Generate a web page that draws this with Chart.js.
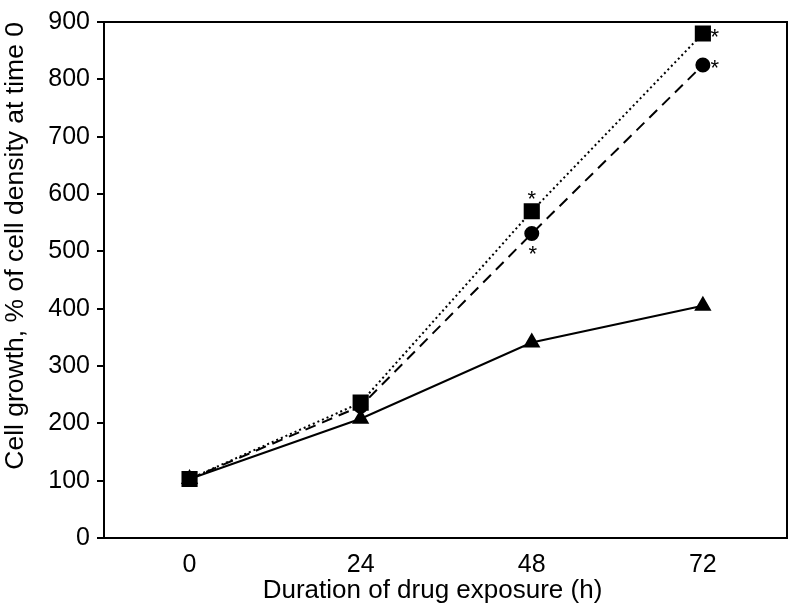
<!DOCTYPE html>
<html>
<head>
<meta charset="utf-8">
<script src="https://cdn.jsdelivr.net/npm/chart.js@4.4.1/dist/chart.umd.min.js"></script>
<style>
  html, body { margin: 0; padding: 0; background: #fff; }
  #wrap { width: 789px; height: 610px; }
</style>
</head>
<body>
<div id="wrap"><canvas id="chart"></canvas></div>
<script>
// duration of drug exposure (h)
var hours = [0, 24, 48, 72];
var yTicks = [0, 100, 200, 300, 400, 500, 600, 700, 800, 900];

// cell growth, % of cell density at time 0
var squareVals = [103, 236, 570, 880];
var circleVals = [103, 230, 531, 825];
var triangleVals = [103, 208, 341, 405];

// which points carry a significance asterisk (and where)
var squareStars = [null, null, 'above', 'right'];
var circleStars = [null, null, 'below', 'right'];

var xTitle = 'Duration of drug exposure (h)';
var yTitle = 'Cell growth, % of cell density at time 0';

var FONT = "'Liberation Sans', Arial, Helvetica, sans-serif";

function pts(vals) {
	return vals.map(function(v, i) { return { x: hours[i], y: v }; });
}

// box round the plot area + x title (sits a bit left of centre in the original)
var boxPlugin = {
	id: 'box',
	afterDraw: function(chart) {
		var a = chart.chartArea, ctx = chart.ctx;
		ctx.save();
		ctx.strokeStyle = '#000';
		ctx.lineWidth = 2;
		ctx.strokeRect(a.left, a.top, a.right - a.left, a.bottom - a.top);
		ctx.fillStyle = '#000';
		ctx.font = '26px ' + FONT;
		ctx.textAlign = 'center';
		ctx.textBaseline = 'alphabetic';
		ctx.fillText(xTitle, a.left + (a.right - a.left) / 2 - 13, 598);
		ctx.restore();
	}
};

// asterisks next to points
var starPlugin = {
	id: 'stars',
	afterDatasetsDraw: function(chart) {
		var ctx = chart.ctx;
		var offs = { above: [0, -11], below: [1, 21], right: [12, 4] };
		ctx.save();
		ctx.fillStyle = '#000';
		ctx.font = '22px ' + FONT;
		ctx.textAlign = 'center';
		ctx.textBaseline = 'middle';
		chart.data.datasets.forEach(function(ds, di) {
			if (!ds.stars) return;
			var meta = chart.getDatasetMeta(di);
			ds.stars.forEach(function(where, i) {
				if (!where) return;
				var el = meta.data[i];
				ctx.fillText('*', el.x + offs[where][0], el.y + offs[where][1]);
			});
		});
		ctx.restore();
	}
};

var chart = new Chart(document.getElementById('chart'), {
	type: 'line',
	data: {
		datasets: [
			{
				data: pts(triangleVals),
				borderColor: '#000', backgroundColor: '#000',
				borderWidth: 2,
				pointStyle: 'triangle', pointRadius: 8,
				order: 3
			},
			{
				data: pts(circleVals),
				borderColor: '#000', backgroundColor: '#000',
				borderWidth: 2, borderDash: [11, 7],
				pointStyle: 'circle', pointRadius: 6.5,
				stars: circleStars,
				order: 2
			},
			{
				data: pts(squareVals),
				borderColor: '#000', backgroundColor: '#000',
				borderWidth: 2, borderDash: [2, 3],
				pointStyle: 'rect', pointRadius: 10,
				stars: squareStars,
				order: 1
			}
		]
	},
	options: {
		responsive: true,
		maintainAspectRatio: false,
		animation: false,
		layout: { autoPadding: false, padding: { top: 18, right: 2, left: 0, bottom: 0 } },
		plugins: {
			legend: { display: false },
			tooltip: { enabled: false }
		},
		scales: {
			x: {
				type: 'linear',
				min: -12,
				max: 83.8,
				afterBuildTicks: function(scale) {
					scale.ticks = hours.map(function(h) { return { value: h }; });
				},
				afterFit: function(scale) { scale.height = 72; },
				grid: { display: false, drawTicks: false },
				border: { display: false },
				ticks: {
					color: '#000',
					padding: 12,
					font: { family: FONT, size: 25 }
				},
				title: { display: false }
			},
			y: {
				min: 0,
				max: 900,
				afterBuildTicks: function(scale) {
					scale.ticks = yTicks.map(function(v) { return { value: v }; });
				},
				afterFit: function(scale) { scale.width = 104; },
				grid: {
					display: true,
					drawOnChartArea: false,
					drawTicks: true,
					tickLength: 7,
					color: '#000',
					lineWidth: 2
				},
				border: { display: false },
				ticks: {
					color: '#000',
					padding: 7,
					font: { family: FONT, size: 25 }
				},
				title: {
					display: true,
					text: yTitle,
					align: 'end',
					color: '#000',
					padding: { top: 0, bottom: 0 },
					font: { family: FONT, size: 26.5 }
				}
			}
		}
	},
	plugins: [boxPlugin, starPlugin]
});
</script>
</body>
</html>
